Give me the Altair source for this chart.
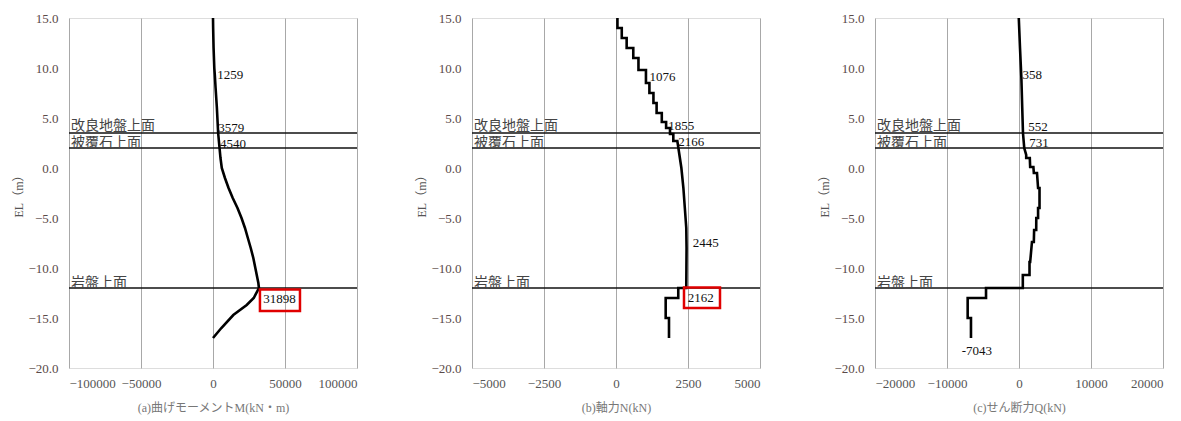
import altair as alt
import pandas as pd

FONT = "Liberation Serif, Noto Sans CJK JP"

y_ticks = [-20, -15, -10, -5, 0, 5, 10, 15]

# reference levels
lvl_el = [3.5, 2.0, -12.0]
lvl_name = ["改良地盤上面", "被覆石上面", "岩盤上面"]
lvl_text_el = [4.25, 2.5, -11.45]

# (a) bending moment M
m_el = [15, 14, 12, 10, 9.3, 8, 6, 4, 3.5, 2, 1, 0, -1, -2, -3, -4, -5, -6, -7, -8,
        -9, -10, -11, -11.5, -12, -13, -13.7, -14.7, -16, -17]
m_val = [0, 100, 400, 900, 1259, 1800, 2700, 3400, 3579, 4540, 5200, 6100, 8300, 10800,
         13700, 17000, 19800, 22200, 24200, 26200, 28000, 29400, 30800, 31500, 31898,
         28300, 23400, 14100, 5800, 0]
m_dom = [-100000, 100000]
m_ticks = [-100000, -50000, 0, 50000, 100000]
m_lbl = ["1259", "3579", "4540", "31898"]
m_lbl_x = [3000, 3700, 4860, 34950]
m_lbl_el = [9.3, 4.0, 2.45, -13.1]
m_box = [32600, 60400, -12.15, -14.3]

# (b) axial force N
n_el = [15, 14, 14, 13, 13, 12, 12, 11, 11, 9.8, 9.8, 8.5, 8.5, 7.5, 7.5, 6.5, 6.5, 5.5,
        5.5, 4.6, 4.6, 4.0, 4.0, 3.4, 3.4, 2.7, 2.7, 2.0, 0, -2, -4, -6, -8, -10, -12,
        -12, -13, -13, -15, -15, -17]
n_val = [50, 50, 200, 200, 370, 370, 600, 600, 780, 780, 1040, 1040, 1160, 1160, 1300,
         1300, 1410, 1410, 1590, 1590, 1740, 1740, 1875, 1875, 1990, 1990, 2130, 2166,
         2270, 2340, 2390, 2440, 2450, 2445, 2440, 2162, 2162, 1725, 1725, 1840, 1840]
n_dom = [-5000, 5000]
n_ticks = [-5000, -2500, 0, 2500, 5000]
n_lbl = ["1076", "1855", "2166", "2445", "2162"]
n_lbl_x = [1160, 1818, 2165, 2663, 2490]
n_lbl_el = [9.06, 4.23, 2.56, -7.5, -13.0]
n_box = [2361, 3611, -11.94, -14.0]

# (c) shear force Q
q_el = [15, 12, 9, 6, 3.5, 2.0, 1.3, 1.0, 1.0, 0.1, 0.1, -0.5, -0.5, -2.0, -2.0, -4.0,
        -4.0, -5.0, -5.0, -6.2, -6.2, -7.4, -7.4, -9.4, -9.4, -10.7, -10.7, -12, -12,
        -13, -13, -15, -15, -17]
q_val = [-30, 140, 330, 450, 552, 731, 1000, 1000, 1500, 1550, 2000, 2060, 2500, 2650,
         2850, 2850, 2650, 2650, 2400, 2390, 2100, 2060, 1800, 1550, 1460, 1460, 530,
         530, -4580, -4580, -7130, -7130, -6670, -6670]
q_dom = [-20000, 20000]
q_ticks = [-20000, -10000, 0, 10000, 20000]
q_lbl = ["358", "552", "731", "-7043"]
q_lbl_x = [480, 1290, 1430, -7960]
q_lbl_el = [9.26, 4.13, 2.46, -18.3]

titles = ["(a)曲げモーメントM(kN・m)", "(b)軸力N(kN)", "(c)せん断力Q(kN)"]
Y_TITLE = "EL（m）"


def panel(el, val, dom, ticks, title, lbl, lbl_x, lbl_el, box=None):
    xs = alt.Scale(domain=dom, nice=False, zero=False)
    ys = alt.Scale(domain=[-20, 15], nice=False, zero=False)
    xax = alt.Axis(values=ticks, format="d", grid=True, gridColor="#a8a8a8", gridWidth=1,
                   domain=False, ticks=False, labelFont=FONT, labelFontSize=13,
                   labelColor="#555555", labelPadding=9, titleFont=FONT, titleFontSize=12,
                   titleFontWeight="normal", titleColor="#777777", titlePadding=12)
    yax = alt.Axis(values=y_ticks, format=".1f", grid=False, domain=False, ticks=False,
                   labelFont=FONT, labelFontSize=13, labelColor="#5a4a48", labelPadding=11,
                   titleFont=FONT, titleFontSize=12, titleFontWeight="normal",
                   titleColor="#555555", titlePadding=2)
    X = lambda f: alt.X(f, scale=xs, axis=xax, title=title)
    Y = lambda f: alt.Y(f, scale=ys, axis=yax, title=Y_TITLE)

    curve_df = pd.DataFrame({"v": val, "el": el, "i": list(range(len(el)))})
    lvl_df = pd.DataFrame({"el": lvl_el, "tel": lvl_text_el, "name": lvl_name,
                           "v": [dom[0]] * len(lvl_el)})
    lbl_df = pd.DataFrame({"v": lbl_x, "el": lbl_el, "t": lbl})

    rules = alt.Chart(lvl_df).mark_rule(color="#111111", strokeWidth=1.5).encode(y=Y("el:Q"))
    names = alt.Chart(lvl_df).mark_text(align="left", baseline="middle", dx=2, font=FONT,
                                        fontSize=14, color="#444444").encode(
        x=X("v:Q"), y=Y("tel:Q"), text="name:N")
    line = alt.Chart(curve_df).mark_line(color="black", strokeWidth=2.6).encode(
        x=X("v:Q"), y=Y("el:Q"), order="i:Q")
    vals = alt.Chart(lbl_df).mark_text(align="left", baseline="middle", font=FONT,
                                       fontSize=13, color="#111111").encode(
        x=X("v:Q"), y=Y("el:Q"), text="t:N")
    layers = [rules, line, names, vals]
    if box is not None:
        box_df = pd.DataFrame({"v": [box[0]], "v2": [box[1]], "el": [box[2]], "el2": [box[3]]})
        rect = alt.Chart(box_df).mark_rect(filled=False, stroke="#e00000", strokeWidth=2.5).encode(
            x=X("v:Q"), x2="v2:Q", y=Y("el:Q"), y2="el2:Q")
        layers.append(rect)
    return alt.layer(*layers).properties(width=288, height=350)


pa = panel(m_el, m_val, m_dom, m_ticks, titles[0], m_lbl, m_lbl_x, m_lbl_el, m_box)
pb = panel(n_el, n_val, n_dom, n_ticks, titles[1], n_lbl, n_lbl_x, n_lbl_el, n_box)
pc = panel(q_el, q_val, q_dom, q_ticks, titles[2], q_lbl, q_lbl_x, q_lbl_el)

chart = alt.hconcat(pa, pb, pc, spacing=115, bounds="flush").properties(
    padding={"left": 4, "top": 3, "right": 2, "bottom": 2}
).configure_view(stroke="black", strokeWidth=1.5).configure(background="white")

chart.save("out.html", embed_options={"renderer": "svg", "actions": False})
